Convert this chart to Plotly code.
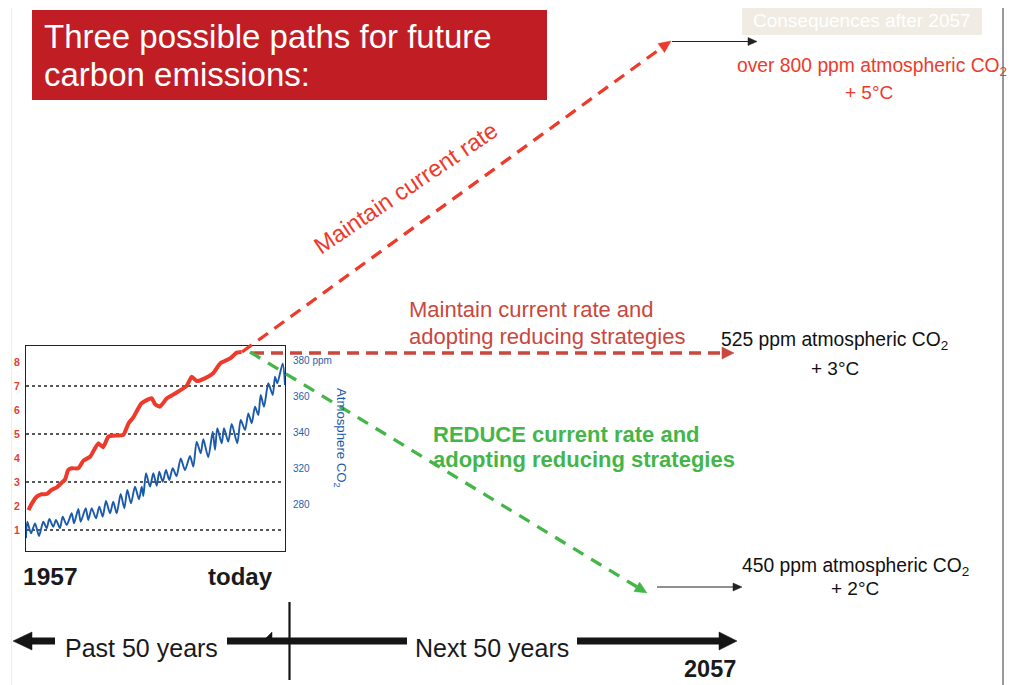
import math
import plotly.graph_objects as go

# ---------------- data ----------------
em_year = [1957.1, 1957.9, 1959.0, 1960.1, 1961.3, 1962.4, 1963.6, 1964.7, 1965.5, 1966.2,
           1967.0, 1968.5, 1969.7, 1971.2, 1973.1, 1974.2, 1975.4, 1976.5, 1978.8, 1980.0,
           1981.1, 1983.0, 1985.3, 1986.1, 1987.2, 1988.8, 1990.7, 1993.3, 1994.5, 1995.6,
           1997.5, 1999.4, 2001.0, 2003.3, 2004.8, 2005.9]
em_gtc = [1.83, 2.11, 2.39, 2.49, 2.50, 2.67, 2.78, 2.97, 3.11, 3.50,
          3.57, 3.57, 3.89, 4.05, 4.61, 4.45, 4.89, 4.93, 4.96, 5.44,
          5.69, 6.28, 6.49, 6.24, 6.14, 6.49, 6.69, 7.00, 7.39, 7.21,
          7.32, 7.53, 7.94, 8.15, 8.39, 8.42]

co2_year = [1957.0, 1957.25, 1957.97, 1958.74, 1959.51, 1960.34, 1961.0, 1961.5, 1962.27, 1962.79,
            1963.56, 1964.08, 1964.86, 1965.82, 1966.27, 1967.1, 1967.56, 1968.53, 1969.03, 1969.68,
            1970.51, 1971.15, 1971.81, 1972.44, 1973.22, 1973.85, 1974.51, 1975.28, 1975.98, 1976.56,
            1977.27, 1978.04, 1978.81, 1979.34, 1979.65, 1980.17, 1980.94, 1981.58, 1982.23, 1982.73,
            1983.39, 1984.03, 1984.66, 1985.32, 1986.06, 1986.87, 1987.69, 1988.66, 1989.3, 1989.95,
            1990.73, 1991.23, 1992.19, 1993.04, 1993.49, 1993.93, 1994.78, 1995.22, 1996.05, 1996.71,
            1997.79, 1998.45, 1999.29, 1999.92, 2000.57, 2001.21, 2001.85, 2002.31, 2002.95, 2003.78,
            2004.63, 2005.07, 2005.51, 2006.56, 2007.0]
co2_ppm = [281.5, 290.7, 284.3, 289.8, 282.8, 290.7, 287.1, 292.2, 287.9, 291.7,
           287.1, 293.5, 288.9, 295.4, 289.8, 297.8, 290.7, 298.2, 291.7, 298.2,
           292.6, 299.1, 293.5, 302.2, 295.4, 301.8, 295.4, 306.1, 298.2, 308.3,
           300.9, 310.2, 303.2, 310.2, 305.0, 317.6, 310.2, 317.6, 310.7, 318.5,
           312.9, 319.4, 313.9, 320.4, 316.1, 325.9, 319.4, 327.2, 321.3, 335.2,
           328.7, 336.5, 326.5, 340.7, 330.6, 342.6, 334.3, 342.6, 335.2, 345.0,
           334.3, 347.2, 341.7, 350.9, 345.4, 354.6, 350.0, 361.1, 354.6, 367.6,
           361.1, 371.3, 367.6, 378.7, 366.7]

em_ticks = [1, 2, 3, 4, 5, 6, 7, 8]
em_grid = [1, 3, 5, 7]
co2_tickvals = [380, 360, 340, 320, 300]
co2_ticktext = ["380 ppm", "360", "340", "320", "280"]

# ---------------- styling ----------------
PW, PH = 1017, 685          # page (reference) size
OFF = 8                      # page body margin in front of the figure
W, H = PW - OFF, PH - OFF    # figure size
FONT = "Liberation Sans, Arial, Helvetica, sans-serif"
RED = "#ee3a2a"
DARKRED = "#c9473d"
GREEN = "#44b649"
BLUE = "#1b5aab"
BLACK = "#151515"

# inset box in page pixels
bx0, bx1, by0, by1 = 26, 285, 346, 551
dom_x = [(bx0 - OFF) / W, (bx1 - OFF) / W]
dom_y = [1 - (by1 - OFF) / H, 1 - (by0 - OFF) / H]

fig = go.Figure()
fig.add_trace(go.Scatter(x=[100], y=[100], mode="markers", marker=dict(opacity=0),
                         hoverinfo="skip", showlegend=False, xaxis="x", yaxis="y"))
fig.add_trace(go.Scatter(x=co2_year, y=co2_ppm, mode="lines", xaxis="x3", yaxis="y3",
                         line=dict(color=BLUE, width=1.9, shape="spline", smoothing=0.7),
                         hoverinfo="skip", showlegend=False))
fig.add_trace(go.Scatter(x=em_year, y=em_gtc, mode="lines", xaxis="x2", yaxis="y2",
                         line=dict(color=RED, width=4, shape="spline", smoothing=0.5),
                         hoverinfo="skip", showlegend=False))

shapes = []


def seg(x0, y0, x1, y1, color, width, dash=None, layer="above"):
    ln = dict(color=color, width=width)
    if dash:
        ln["dash"] = dash
    shapes.append(dict(type="line", xref="x", yref="y", x0=x0, y0=y0, x1=x1, y1=y1,
                       line=ln, layer=layer))


def head(tip, frm, L, Wd, color):
    dx, dy = tip[0] - frm[0], tip[1] - frm[1]
    d = math.hypot(dx, dy)
    ux, uy = dx / d, dy / d
    nx, ny = -uy, ux
    bxc, byc = tip[0] - L * ux, tip[1] - L * uy
    p = "M {:.2f},{:.2f} L {:.2f},{:.2f} L {:.2f},{:.2f} Z".format(
        tip[0], tip[1], bxc + Wd * nx, byc + Wd * ny, bxc - Wd * nx, byc - Wd * ny)
    shapes.append(dict(type="path", xref="x", yref="y", path=p,
                       fillcolor=color, line=dict(color=color, width=0.5), layer="above"))
    return bxc, byc


def arrow(start, tip, color, width, L, Wd, dash=None):
    bxc, byc = head(tip, start, L, Wd, color)
    seg(start[0], start[1], bxc, byc, color, width, dash)


# boxes / frame
shapes.append(dict(type="rect", xref="x", yref="y", x0=32, x1=547, y0=10, y1=100,
                   fillcolor="#c11d25", line=dict(width=0), layer="below"))
shapes.append(dict(type="rect", xref="x", yref="y", x0=742, x1=982, y0=2, y1=35,
                   fillcolor="#f0ece3", line=dict(width=0), layer="below"))
seg(1003, 0, 1003, PH, "#555555", 1.2)
seg(11.5, 0, 11.5, PH, "#eeeeee", 1)

# inset dotted grid
for g in em_grid:
    shapes.append(dict(type="line", xref="x2 domain", yref="y2", x0=0, x1=0.99, y0=g, y1=g,
                       line=dict(color="#222222", width=1.3, dash="dot"), layer="below"))

# scenario paths
arrow((242, 352), (671, 41), RED, 3.3, 12, 5.5, dash="12px,8px")
arrow((252, 353), (734, 353), DARKRED, 3.3, 12, 6, dash="12px,7px")
arrow((250, 352), (647, 593), GREEN, 3.3, 12, 5.5, dash="12px,9px")

# thin consequence arrows
arrow((672, 41.5), (757, 41.5), "#222222", 1.2, 9, 4)
arrow((657, 587), (742, 587), "#222222", 1.2, 9, 4)

# timeline
seg(30, 641, 55, 641, BLACK, 7)
seg(227, 641, 407, 641, BLACK, 7)
seg(577, 641, 722, 641, BLACK, 7)
head((13, 641), (40, 641), 19, 9, BLACK)
head((737, 641), (700, 641), 18, 9, BLACK)
shapes.append(dict(type="path", xref="x", yref="y", path="M 266,638 L 272,632 L 272,638 Z",
                   fillcolor=BLACK, line=dict(color=BLACK, width=0.5), layer="above"))
seg(289.5, 602, 289.5, 680, BLACK, 2.2)

# ---------------- text ----------------
ann = []


def txt(x, y, s, size, color, xanchor="left", bold=False, angle=0):
    t = "<b>" + s + "</b>" if bold else s
    ann.append(dict(x=x, y=y, xref="x", yref="y", text=t, showarrow=False,
                    xanchor=xanchor, yanchor="middle", textangle=angle,
                    font=dict(family=FONT, size=size, color=color)))


txt(42, 36.5, "Three possible paths for future", 33, "white")
txt(42, 74.5, "carbon emissions:", 33, "white")
txt(862, 20, "Consequences after 2057", 19, "white", xanchor="center")
txt(735, 66.5, "over 800 ppm atmospheric CO<sub>2</sub>", 19.3, RED)
txt(869, 92.5, "+ 5°C", 19, RED, xanchor="center")
txt(406, 188, "Maintain current rate", 23.5, RED, xanchor="center", angle=-34)
txt(406.5, 309.5, "Maintain current rate and", 22, DARKRED)
txt(406.5, 336, "adopting reducing strategies", 22, DARKRED)
txt(719, 340.5, "525 ppm atmospheric CO<sub>2</sub>", 19.3, "#111111")
txt(835, 368.5, "+ 3°C", 19, "#111111", xanchor="center")
txt(430.5, 434.5, "REDUCE current rate and", 22, GREEN, bold=True)
txt(430.5, 459.5, "adopting reducing strategies", 22, GREEN, bold=True)
txt(739.5, 566.8, "450 ppm atmospheric CO<sub>2</sub>", 19.3, "#111111")
txt(855, 588.5, "+ 2°C", 19, "#111111", xanchor="center")
txt(21, 576.5, "1957", 24.5, "#1a1a1a", bold=True)
txt(205.5, 576.5, "today", 24, "#1a1a1a", bold=True)
txt(141, 648, "Past 50 years", 25, "#1a1a1a", xanchor="center")
txt(492, 648, "Next 50 years", 25, "#1a1a1a", xanchor="center")
txt(682, 669, "2057", 23.5, "#1a1a1a", bold=True)
txt(341, 438, "Atmosphere CO<sub>2</sub>", 13.2, BLUE, xanchor="center", angle=90)

fig.update_layout(
    width=W, height=H, margin=dict(l=0, r=0, t=0, b=0),
    paper_bgcolor="white", plot_bgcolor="rgba(0,0,0,0)",
    showlegend=False, shapes=shapes, annotations=ann,
    xaxis=dict(domain=[0, 1], range=[OFF, PW], visible=False, fixedrange=True),
    yaxis=dict(domain=[0, 1], range=[PH, OFF], visible=False, fixedrange=True),
    xaxis2=dict(domain=dom_x, range=[1956.54, 2015.85], anchor="y2", showline=True,
                mirror=True, linecolor="#222222", linewidth=1.2, showgrid=False,
                zeroline=False, showticklabels=False, ticks=""),
    yaxis2=dict(domain=dom_y, range=[0.125, 8.667], anchor="x2", showline=True,
                mirror=True, linecolor="#222222", linewidth=1.2, showgrid=False,
                zeroline=False, tickvals=em_ticks, ticks="", ticklabelstandoff=3,
                tickfont=dict(family=FONT, size=10.5, color="#e8402e", weight="bold")),
    xaxis3=dict(domain=dom_x, range=[1957, 2007], anchor="y3", visible=False),
    yaxis3=dict(domain=dom_y, range=[274.44, 388.33], anchor="x3", side="right",
                showline=False, showgrid=False, zeroline=False, ticks="",
                tickvals=co2_tickvals, ticktext=co2_ticktext, ticklabelstandoff=7,
                tickfont=dict(family=FONT, size=10, color="#1f5fb0")),
)

fig.write_html("out.html")
